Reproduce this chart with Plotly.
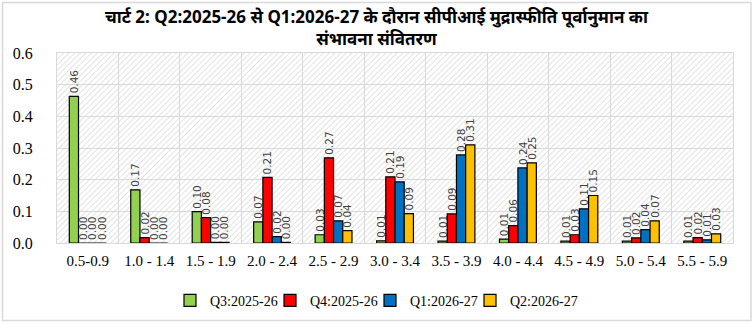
import base64
import plotly.graph_objects as go

categories = ["0.5-0.9", "1.0 - 1.4", "1.5 - 1.9", "2.0 - 2.4", "2.5 - 2.9", "3.0 - 3.4",
              "3.5 - 3.9", "4.0 - 4.4", "4.5 - 4.9", "5.0 - 5.4", "5.5 - 5.9"]
q3_2025 = [0.463, 0.168, 0.099, 0.067, 0.026, 0.007, 0.006, 0.012, 0.006, 0.006, 0.006]
q4_2025 = [0.0, 0.017, 0.080, 0.207, 0.269, 0.209, 0.092, 0.055, 0.026, 0.016, 0.017]
q1_2026 = [0.0, 0.0, 0.002, 0.020, 0.070, 0.193, 0.278, 0.237, 0.108, 0.042, 0.010]
q2_2026 = [0.0, 0.0, 0.002, 0.002, 0.039, 0.093, 0.310, 0.253, 0.150, 0.070, 0.029]
series_names = ["Q3:2025-26", "Q4:2025-26", "Q1:2026-27", "Q2:2026-27"]
series_colors = ["#92D050", "#FF0000", "#0070C0", "#FFC000"]
y_ticks = [0.0, 0.1, 0.2, 0.3, 0.4, 0.5, 0.6]
title = "चार्ट 2: Q2:2025-26 से Q1:2026-27 के दौरान सीपीआई मुद्रास्फीति पूर्वानुमान का<br>संभावना संवितरण"

series_values = [q3_2025, q4_2025, q1_2026, q2_2026]
legend_ids = ["legend", "legend2", "legend3", "legend4"]

fig = go.Figure()
for name, vals, col, lid in zip(series_names, series_values, series_colors, legend_ids):
    fig.add_trace(go.Bar(
        x=categories, y=vals, name=name, legend=lid,
        marker=dict(color=col, line=dict(color="#000000", width=1.2)),
        texttemplate="%{y:.2f}", textposition="outside", textangle=-90,
        constraintext="none",
        textfont=dict(family="DejaVu Sans", size=10.5, color="#404040"),
        cliponaxis=False,
    ))

# diagonal hatch background for plot area
svg = ('<svg xmlns="http://www.w3.org/2000/svg" width="676" height="190">'
       '<defs><pattern id="h" width="4" height="4" patternUnits="userSpaceOnUse" '
       'patternTransform="rotate(45)"><line x1="0" y1="0" x2="0" y2="4" '
       'stroke="#dcdcdc" stroke-width="1.6"/></pattern></defs>'
       '<rect width="676" height="190" fill="#ffffff"/>'
       '<rect width="676" height="190" fill="url(#h)"/></svg>')
uri = "data:image/svg+xml;base64," + base64.b64encode(svg.encode()).decode()

plot_w = 676.0
legend_left_px = [170, 270, 370, 470]
legend_common = dict(orientation="h", xanchor="left", y=-0.22, yanchor="top",
                     font=dict(family="Liberation Serif", size=14, color="#000000"),
                     itemwidth=30, bgcolor="rgba(0,0,0,0)")
legends = {}
for lid, px in zip(legend_ids, legend_left_px):
    legends[lid] = dict(legend_common, x=(px - 57) / plot_w)

fig.update_layout(
    width=753, height=324,
    margin=dict(l=57, r=20, t=53, b=81, autoexpand=False),
    paper_bgcolor="white", plot_bgcolor="rgba(0,0,0,0)",
    barmode="group", bargap=0.4, bargroupgap=0,
    uniformtext=dict(mode=False),
    showlegend=True,
    annotations=[dict(text=title, xref="paper", yref="paper", x=0.474, y=1.135,
                      xanchor="center", yanchor="middle", showarrow=False,
                      font=dict(family="Noto Sans, sans-serif", size=17, color="#000000",
                                weight="bold"))],
    images=[dict(source=uri, xref="paper", yref="paper", x=0, y=1, sizex=1, sizey=1,
                 xanchor="left", yanchor="top", sizing="stretch", layer="below")],
    shapes=[dict(type="rect", xref="paper", yref="paper", x0=-0.0806, x1=1.0266, y0=-0.408, y1=1.266,
                 line=dict(color="#d9d9d9", width=1.5), fillcolor="rgba(0,0,0,0)")],
    **legends,
)
fig.update_xaxes(type="category", tickson="boundaries", showgrid=True, gridcolor="#d9d9d9",
                 gridwidth=1, showline=True, linecolor="#d9d9d9", mirror=True, ticks="",
                 ticklabelstandoff=4, automargin=False,
                 tickfont=dict(family="Liberation Serif", size=15, color="#000000"))
fig.update_yaxes(range=[0, 0.6], tickvals=y_ticks, tickformat=".1f", showgrid=True,
                 gridcolor="#d9d9d9", gridwidth=1, showline=True, linecolor="#d9d9d9",
                 mirror=True, zeroline=False, ticks="", ticklen=0, ticklabelstandoff=20,
                 automargin=False,
                 tickfont=dict(family="Liberation Serif", size=16, color="#000000"))
fig.write_html("out.html")
